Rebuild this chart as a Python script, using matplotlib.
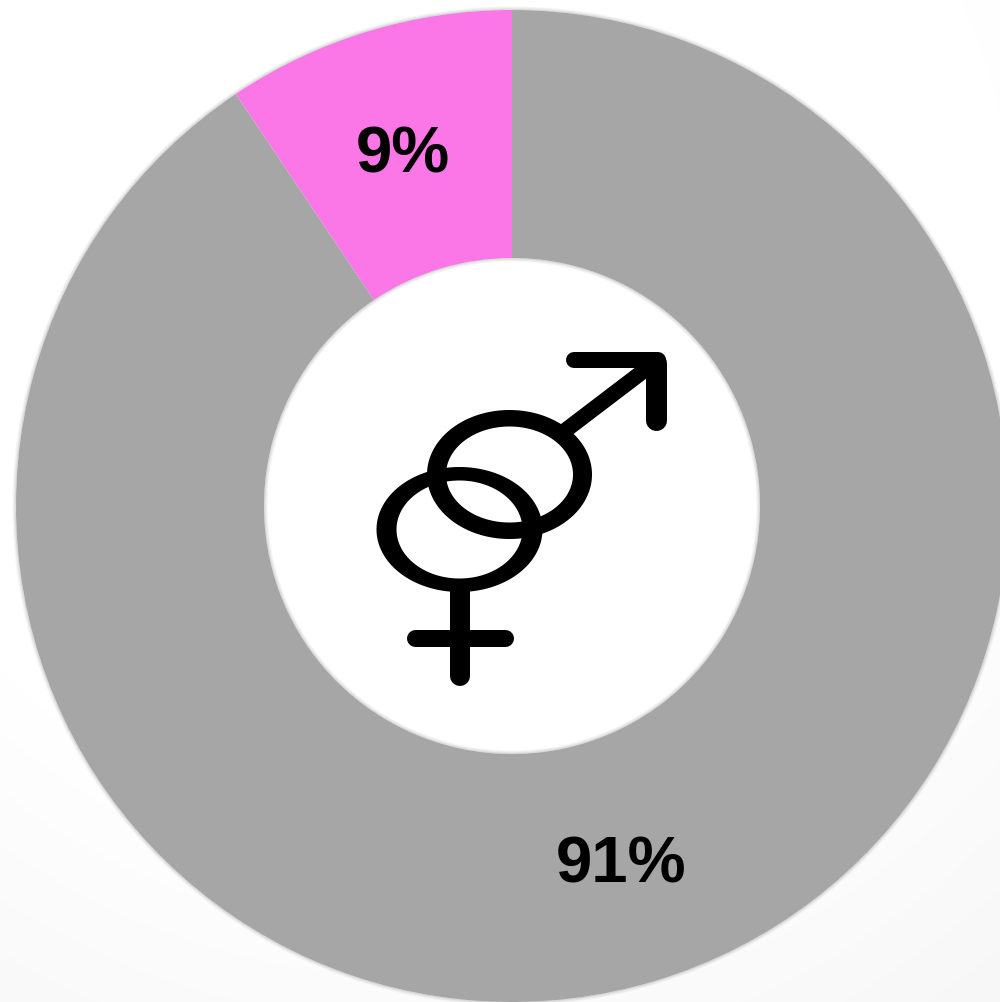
import matplotlib
matplotlib.use("Agg")
import matplotlib.pyplot as plt
from matplotlib.patches import PathPatch, Circle
from matplotlib.path import Path
import numpy as np

labels = ["9%", "91%"]
values = [9.4, 90.6]
colors = ["#fb76e6", "#a6a6a6"]

W, H = 1000, 1003
fig = plt.figure(figsize=(W/100, H/100), dpi=100)

bg = fig.add_axes([0, 0, 1, 1])
bg.set_axis_off()
yy, xx = np.mgrid[0:H, 0:W]
dist = np.hypot(xx - 420, yy - 250)
grad = 1 - 0.035 * np.clip((dist - 550) / 400, 0, 1)
bg.imshow(grad, cmap="gray", vmin=0, vmax=1, aspect="auto", extent=[0, W, H, 0])
bg.set_xlim(0, W); bg.set_ylim(H, 0)

ax = fig.add_axes([0, 0, 1, 1], facecolor="none")
cx, cy, R, r = 512, 507, 496, 248
ax.pie(values, colors=colors, center=(cx, cy), radius=R, startangle=-90,
       counterclock=False, frame=True,
       wedgeprops=dict(width=R - r, linewidth=0))
ax.set_xlim(0, W); ax.set_ylim(H, 0)
ax.set_axis_off()
ax.set_aspect("auto")

# soft blurred edges of the ring
for i, a in enumerate([0.4, 0.22, 0.1]):
    ax.add_patch(Circle((cx, cy), R + 0.5 + i*1.2, fill=False, ec="#a6a6a6", lw=1.0, alpha=a))
    ax.add_patch(Circle((cx, cy), r - 0.5 - i*1.2, fill=False, ec="#a6a6a6", lw=1.0, alpha=a))

font = "Liberation Sans"
ax.text(403, 155, labels[0], fontsize=47, fontweight="bold", family=font,
        ha="center", va="center", color="black")
ax.text(621, 866, labels[1], fontsize=47, fontweight="bold", family=font,
        ha="center", va="center", color="black")


def ring(cx_, cy_, ao, bo, ai, bi):
    t = np.linspace(0, 2*np.pi, 240)
    outer = np.c_[cx_ + ao*np.cos(t), cy_ + bo*np.sin(t)]
    inner = np.c_[cx_ + ai*np.cos(t[::-1]), cy_ + bi*np.sin(t[::-1])]
    verts = np.r_[outer, inner]
    codes = np.r_[[Path.MOVETO], [Path.LINETO]*(len(t)-1), [Path.MOVETO], [Path.LINETO]*(len(t)-1)]
    ax.add_patch(PathPatch(Path(verts, codes), fc="k", ec="none"))


def px(n):
    return n * 0.72


ring(459.5, 530.5, 83, 62.5, 63, 49)
ring(509.5, 475.5, 82.5, 64.5, 63.5, 48)
round_kw = dict(color="k", solid_capstyle="round")
ax.plot([459.5, 459.5], [590, 677], lw=px(20), **round_kw)
ax.plot([414.5, 504.5], [638.5, 638.5], lw=px(17), **round_kw)
ax.plot([562, 650], [434, 367], color="k", lw=px(15.5), solid_capstyle="butt")
ax.plot([574, 658], [361, 361], lw=px(16), **round_kw)
ax.plot([655.5, 655.5], [364, 420.5], lw=px(21), **round_kw)

fig.savefig("out.png", dpi=100)
